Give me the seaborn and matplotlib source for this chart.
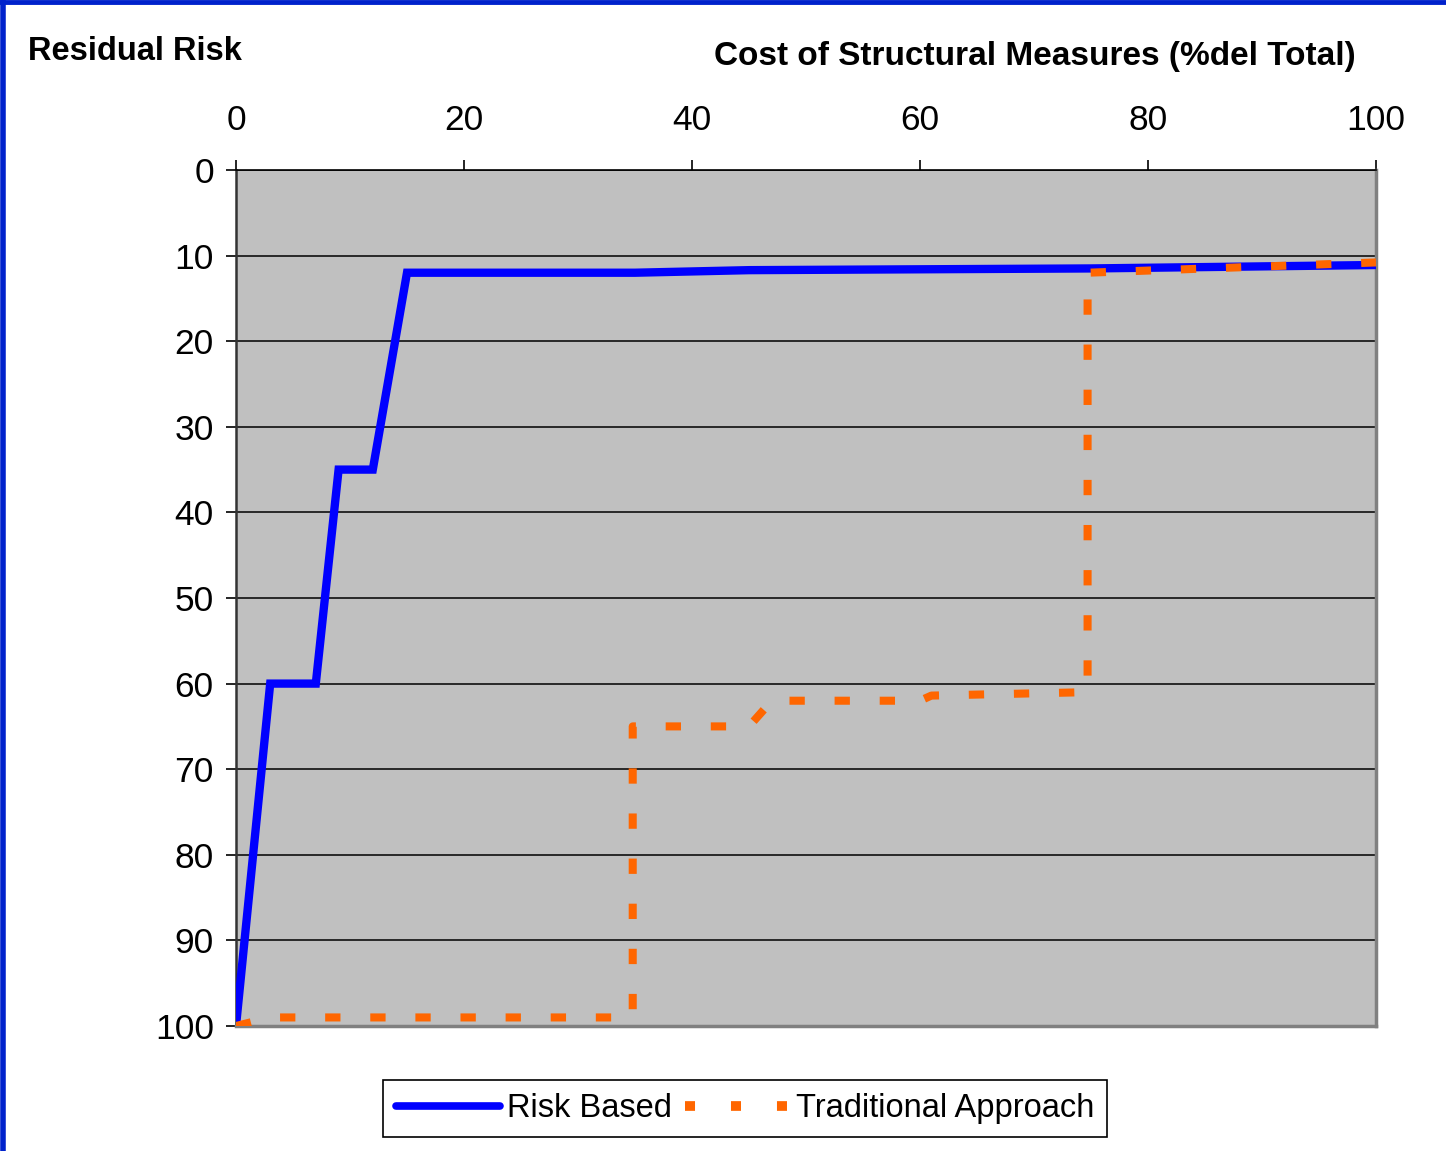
import matplotlib
matplotlib.use("Agg")
import matplotlib.pyplot as plt
from matplotlib.lines import Line2D
import seaborn as sns
import pandas as pd

# data
risk_cost = [0, 3, 7, 9, 12, 15, 35, 45, 75, 100]
risk_resid = [100, 60, 60, 35, 35, 12, 12, 11.7, 11.5, 11.1]

trad_cost = [0, 3, 34.8, 34.8, 45, 47, 60, 61, 74.7, 74.7, 100]
trad_resid = [100, 99, 99, 65, 65, 62, 62, 61.4, 61, 12, 10.8]

x_ticks = [0, 20, 40, 60, 80, 100]
y_ticks = [0, 10, 20, 30, 40, 50, 60, 70, 80, 90, 100]

plt.rcParams['font.family'] = ['Liberation Sans', 'DejaVu Sans']

fig = plt.figure(figsize=(14.46, 11.51), dpi=100)
fig.patch.set_facecolor('white')
ax = fig.add_axes([236/1446, 1 - 1026/1151, 1140/1446, 856/1151])
ax.set_facecolor('#C0C0C0')

df_risk = pd.DataFrame({'cost': risk_cost, 'resid': risk_resid})
df_trad = pd.DataFrame({'cost': trad_cost, 'resid': trad_resid})

sns.lineplot(data=df_risk, x='cost', y='resid', ax=ax, sort=False, estimator=None,
             color='#0000FF', lw=6, zorder=4)
ax.lines[-1].set_solid_joinstyle('miter')
sns.lineplot(data=df_trad, x='cost', y='resid', ax=ax, sort=False, estimator=None,
             color='#FF6600', lw=5.8, zorder=5)
ax.lines[-1].set_dashes((1.9, 3.7))
ax.lines[-1].set_dash_capstyle('butt')

ax.set_xlim(0, 100)
ax.set_ylim(100, 0)
ax.set_xticks(x_ticks)
ax.set_yticks(y_ticks)
ax.xaxis.tick_top()
ax.tick_params(axis='x', direction='out', length=7, width=1.2, pad=17, labelsize=25.5, colors='black')
ax.tick_params(axis='y', direction='out', length=7, width=1.2, pad=9, labelsize=25.5, colors='black')
ax.set_xlabel('')
ax.set_ylabel('')
ax.yaxis.grid(True, color='black', lw=1.1, zorder=1)
ax.xaxis.grid(False)
ax.set_axisbelow(True)

ax.spines['top'].set_color('black')
ax.spines['top'].set_linewidth(1.2)
ax.spines['left'].set_color('#333333')
ax.spines['left'].set_linewidth(1.8)
ax.spines['right'].set_color('#808080')
ax.spines['right'].set_linewidth(2.5)
ax.spines['bottom'].set_color('#808080')
ax.spines['bottom'].set_linewidth(2.5)

fig.text(28/1446, 1 - 51/1151, 'Residual Risk', fontsize=23.5, fontweight='bold',
         ha='left', va='center')
fig.text(1035/1446, 1 - 56/1151, 'Cost of Structural Measures (%del Total)',
         fontsize=24, fontweight='bold', ha='center', va='center')

handles = [Line2D([], [], color='#0000FF', lw=5.5, solid_capstyle='round'),
           Line2D([], [], color='#FF6600', lw=7, dashes=(1.03, 3.7))]
leg = fig.legend(handles, ['Risk Based', 'Traditional Approach'], loc='lower center',
                 bbox_to_anchor=(745/1446, 1 - 1137/1151), ncol=2, fontsize=23.5,
                 frameon=True, fancybox=False, framealpha=1, edgecolor='black',
                 handlelength=3.2, handletextpad=0.2, columnspacing=0.4,
                 borderpad=0.4, borderaxespad=0)
leg.get_frame().set_linewidth(1.2)

# blue frame on top and left edges
fig.add_artist(Line2D([0, 1], [1 - 2/1151, 1 - 2/1151], color='#0022CC', lw=3.5,
                      transform=fig.transFigure))
fig.add_artist(Line2D([2.5/1446, 2.5/1446], [0, 1], color='#0022CC', lw=4,
                      transform=fig.transFigure))

fig.savefig('out.png', dpi=100)
